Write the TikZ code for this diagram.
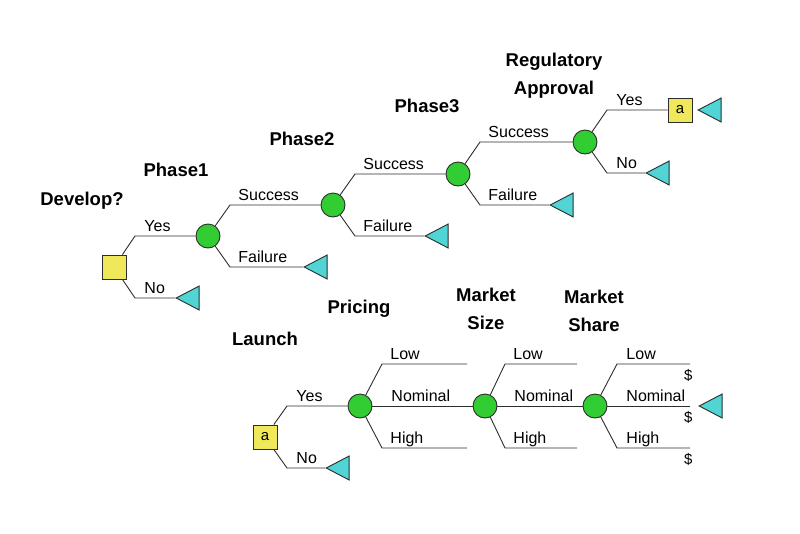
\documentclass[tikz,border=0pt]{standalone}
\usepackage{fontspec}
\setmainfont{Liberation Sans}
\usetikzlibrary{shapes.geometric}
\definecolor{cgreen}{RGB}{50,205,50}
\definecolor{ccyan}{RGB}{80,212,212}
\definecolor{cyellow}{RGB}{238,232,90}
\definecolor{cline}{RGB}{45,45,45}
\begin{document}
\begin{tikzpicture}[x=1pt,y=-1pt,
  line width=0.9pt, color=cline,
  every node/.style={text=black},
  dec/.style={draw=cline, fill=cyellow, minimum size=24pt, inner sep=0pt, font=\fontsize{15}{15}\selectfont},
  chance/.style={circle, draw=cline, fill=cgreen, minimum size=24pt, inner sep=0pt},
  term/.style={isosceles triangle, shape border rotate=180, isosceles triangle stretches,
     draw=cline, fill=ccyan, minimum height=23pt, minimum width=24pt, inner sep=0pt, anchor=apex},
  ttl/.style={font=\bfseries\fontsize{18.5}{28}\selectfont, align=center, inner sep=0pt},
  lbl/.style={font=\fontsize{16}{16}\selectfont, inner sep=0pt, anchor=base west},
  dol/.style={font=\fontsize{15}{15}\selectfont, inner sep=0pt, anchor=north east}
]
\useasboundingbox (0,0) rectangle (800,533);

% ---- titles
\node[ttl] (tDev) at (82,201) {Develop?};
\node[ttl] (tP1) at (176,170) {Phase1};
\node[ttl] (tP2) at (302,139) {Phase2};
\node[ttl] (tP3) at (427,106) {Phase3};
\node[ttl] (tRA) at (554,76) {Regulatory\\Approval};
\node[ttl] (tLa) at (265,339) {Launch};
\node[ttl] (tPr) at (359,309) {Pricing};
\node[ttl] (tMS) at (486,309) {Market\\Size};
\node[ttl] (tSh) at (594,311) {Market\\Share};

% ---- upper tree nodes
\node[dec] (d1) at (114,267) {};
\node[chance] (p1) at (208,236) {};
\node[chance] (p2) at (333,205) {};
\node[chance] (p3) at (458,174) {};
\node[chance] (ra) at (585,142) {};
\node[dec] (a1) at (680,110) {a};
\node[term] (t0) at (175,298) {};
\node[term] (t1) at (303,267) {};
\node[term] (t2) at (424,236) {};
\node[term] (t3) at (549,205) {};
\node[term] (t4) at (645,173) {};
\node[term] (t5) at (697,110) {};

\coordinate (k1y) at (135,236); \coordinate (k1n) at (135,298);
\coordinate (k2s) at (230,205); \coordinate (k2f) at (230,267);
\coordinate (k3s) at (355,174); \coordinate (k3f) at (355,236);
\coordinate (k4s) at (480,142); \coordinate (k4f) at (480,205);
\coordinate (k5y) at (607,110); \coordinate (k5n) at (607,173);

\draw (d1) -- (k1y) -- (p1);
\draw (d1) -- (k1n) -- (t0);
\draw (p1) -- (k2s) -- (p2);
\draw (p1) -- (k2f) -- (t1);
\draw (p2) -- (k3s) -- (p3);
\draw (p2) -- (k3f) -- (t2);
\draw (p3) -- (k4s) -- (ra);
\draw (p3) -- (k4f) -- (t3);
\draw (ra) -- (k5y) -- (a1);
\draw (ra) -- (k5n) -- (t4);

\node[lbl] (l1) at ([shift={(9,-5)}]k1y) {Yes};
\node[lbl] (l2) at ([shift={(9,-5)}]k1n) {No};
\node[lbl] (l3) at ([shift={(8,-5)}]k2s) {Success};
\node[lbl] (l4) at ([shift={(8,-5)}]k2f) {Failure};
\node[lbl] (l5) at ([shift={(8,-5)}]k3s) {Success};
\node[lbl] (l6) at ([shift={(8,-5)}]k3f) {Failure};
\node[lbl] (l7) at ([shift={(8,-5)}]k4s) {Success};
\node[lbl] (l8) at ([shift={(8,-5)}]k4f) {Failure};
\node[lbl] (l9) at ([shift={(9,-5)}]k5y) {Yes};
\node[lbl] (l10) at ([shift={(9,-5)}]k5n) {No};

% ---- lower tree nodes
\node[dec] (a2) at (265,437) {a};
\node[chance] (pr) at (360,406) {};
\node[chance] (ms) at (485,406) {};
\node[chance] (sh) at (595,406) {};
\node[term] (t6) at (325,468) {};
\node[term] (t7) at (698,406) {};

\coordinate (k6y) at (287,406); \coordinate (k6n) at (287,468);
\coordinate (k7l) at (382,364); \coordinate (e7l) at (467,364);
\coordinate (k7h) at (382,448); \coordinate (e7h) at (467,448);
\coordinate (k8l) at (505,364); \coordinate (e8l) at (577,364);
\coordinate (k8h) at (505,448); \coordinate (e8h) at (577,448);
\coordinate (k9l) at (617,364); \coordinate (e9l) at (690,364);
\coordinate (e9n) at (690,406);
\coordinate (k9h) at (617,448); \coordinate (e9h) at (690,448);

\draw (a2) -- (k6y) -- (pr);
\draw (a2) -- (k6n) -- (t6);
\draw (pr) -- (k7l) -- (e7l);
\draw (pr) -- (ms);
\draw (pr) -- (k7h) -- (e7h);
\draw (ms) -- (k8l) -- (e8l);
\draw (ms) -- (sh);
\draw (ms) -- (k8h) -- (e8h);
\draw (sh) -- (k9l) -- (e9l);
\draw (sh) -- (e9n);
\draw (sh) -- (k9h) -- (e9h);

\node[lbl] (m1) at ([shift={(9,-5)}]k6y) {Yes};
\node[lbl] (m2) at ([shift={(9,-5)}]k6n) {No};
\node[lbl] (m3) at ([shift={(8,-5)}]k7l) {Low};
\node[lbl] (m4) at (391,401) {Nominal};
\node[lbl] (m5) at ([shift={(8,-5)}]k7h) {High};
\node[lbl] (m6) at ([shift={(8,-5)}]k8l) {Low};
\node[lbl] (m7) at (514,401) {Nominal};
\node[lbl] (m8) at ([shift={(8,-5)}]k8h) {High};
\node[lbl] (m9) at ([shift={(9,-5)}]k9l) {Low};
\node[lbl] (m10) at (626,401) {Nominal};
\node[lbl] (m11) at ([shift={(9,-5)}]k9h) {High};

\node[dol] (s1) at ([shift={(3,5)}]e9l) {\$};
\node[dol] (s2) at ([shift={(3,5)}]e9n) {\$};
\node[dol] (s3) at ([shift={(3,5)}]e9h) {\$};
\end{tikzpicture}
\end{document}
